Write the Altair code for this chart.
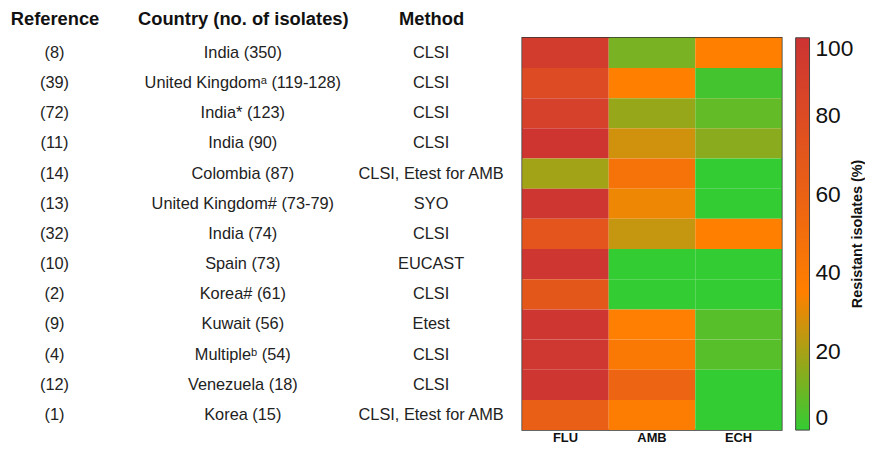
import altair as alt
import pandas as pd

references = ["(8)", "(39)", "(72)", "(11)", "(14)", "(13)", "(32)", "(10)", "(2)", "(9)", "(4)", "(12)", "(1)"]
countries = ["India (350)", "United Kingdomᵃ (119-128)", "India* (123)", "India (90)", "Colombia (87)",
             "United Kingdom# (73-79)", "India (74)", "Spain (73)", "Korea# (61)", "Kuwait (56)",
             "Multipleᵇ (54)", "Venezuela (18)", "Korea (15)"]
methods = ["CLSI", "CLSI", "CLSI", "CLSI", "CLSI, Etest for AMB", "SYO", "CLSI", "EUCAST", "CLSI",
           "Etest", "CLSI", "CLSI", "CLSI, Etest for AMB"]
flu = [92, 80, 88, 98, 19, 97, 71, 97, 70, 97, 96, 97, 63]
amb = [12, 35, 17, 27, 46, 32, 25, 0, 0, 36, 41, 58, 38]
ech = [35, 3, 8, 15, 0, 0, 35, 0, 0, 6, 6, 0, 0]

headers = ["Reference", "Country (no. of isolates)", "Method"]
drugs = ["FLU", "AMB", "ECH"]
legend_title = "Resistant isolates (%)"

rows = list(range(len(references)))

text_rows = []
for i in rows:
    for h, v in zip(headers, [references[i], countries[i], methods[i]]):
        text_rows.append({"row": i, "col": h, "label": v})
text_df = pd.DataFrame(text_rows)

heat_rows = []
for i in rows:
    for d, v in zip(drugs, [flu[i], amb[i], ech[i]]):
        heat_rows.append({"row": i, "drug": d, "value": v})
heat_df = pd.DataFrame(heat_rows)

FONT = "Liberation Sans"
H = 396

table = alt.Chart(text_df).mark_text(font=FONT, fontSize=16.5, color="#222").encode(
    x=alt.X("col:N", sort=headers,
            scale=alt.Scale(type="point", padding=0.247),
            axis=alt.Axis(orient="top", title=None, domain=False, ticks=False,
                          labelFont=FONT, labelFontSize=18.5, labelFontWeight="bold",
                          labelColor="#111", labelPadding=9, labelAngle=0,
                          labelLimit=0, labelOverlap=False)),
    y=alt.Y("row:O", axis=None),
    text="label:N",
).properties(width=474, height=H)

heat = alt.Chart(heat_df).mark_rect().encode(
    x=alt.X("drug:N", sort=drugs,
            scale=alt.Scale(paddingInner=0, paddingOuter=0),
            axis=alt.Axis(orient="bottom", title=None, domain=False, ticks=False,
                          labelFont=FONT, labelFontSize=13, labelFontWeight="bold",
                          labelColor="#111", labelPadding=2, labelAngle=0)),
    y=alt.Y("row:O", axis=None, scale=alt.Scale(paddingInner=0, paddingOuter=0)),
    color=alt.Color("value:Q",
                    scale=alt.Scale(domain=[0, 35, 100], range=["#33cc33", "#ff8000", "#cc3333"],
                                    interpolate="rgb"),
                    legend=alt.Legend(title=None, orient="right",
                                      gradientLength=H, gradientThickness=14,
                                      gradientStrokeColor="#444", gradientStrokeWidth=1,
                                      values=[0, 20, 40, 60, 80, 100],
                                      labelFont=FONT, labelFontSize=23, labelColor="#111",
                                      labelOffset=6, labelBaseline="middle",
                                      offset=14, padding=0)),
).properties(width=262, height=H, view=alt.ViewBackground(stroke="#333", strokeWidth=1.5))

title_panel = alt.Chart(pd.DataFrame({"t": [legend_title]})).mark_text(
    angle=270, font=FONT, fontSize=14.5, fontWeight="bold", color="#111"
).encode(text="t:N").properties(width=6, height=H)

right = alt.hconcat(heat, title_panel, spacing=-6).resolve_legend(color="independent")

chart = alt.hconcat(table, right, spacing=17).configure_view(stroke=None).properties(
    padding=0, background="white")

chart.save("out.html", embed_options={"renderer": "svg", "actions": False})
